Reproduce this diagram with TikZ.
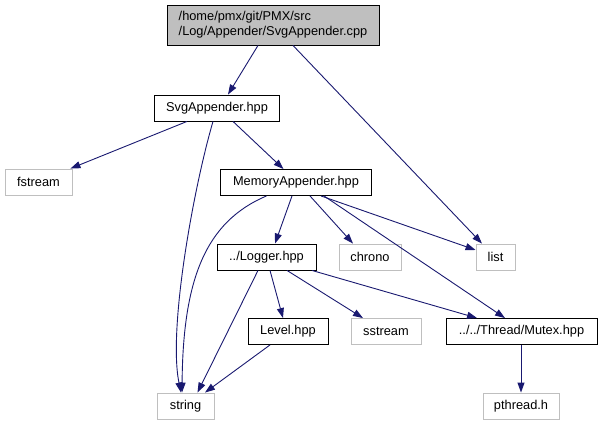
\documentclass[tikz,border=0pt]{standalone}
\usepackage{fontspec}
\setmainfont{Liberation Sans}
\usetikzlibrary{arrows.meta}
\definecolor{edgeblue}{HTML}{191970}
\definecolor{sysgray}{HTML}{BFBFBF}
\tikzset{
  filebox/.style={draw=black, fill=white, line width=0.9pt, inner sep=0pt, minimum height=26pt, font=\fontsize{12.8}{15}\selectfont},
  sysbox/.style={filebox, draw=sysgray},
  dep/.style={draw=edgeblue, line width=0.9pt, -{Triangle[length=10pt,width=7pt]}},
}
\begin{document}
\begin{tikzpicture}[x=1pt,y=-1pt]
\useasboundingbox (0,0) rectangle (602,425);
\node[filebox, fill=sysgray, minimum width=212pt, minimum height=40pt, align=left] (root) at (273,25) {/home/pmx/git/PMX/src\\/Log/Appender/SvgAppender.cpp};
\node[filebox, minimum width=125pt] (svg) at (217,108) {SvgAppender.hpp};
\node[sysbox, minimum width=67pt] (fstream) at (38.5,182) {fstream};
\node[filebox, minimum width=151pt] (mem) at (296,182.5) {MemoryAppender.hpp};
\node[filebox, minimum width=99pt] (logger) at (266.5,257) {../Logger.hpp};
\node[sysbox, minimum width=62pt] (chrono) at (370,257) {chrono};
\node[sysbox, minimum width=39pt] (list) at (495.5,257) {list};
\node[filebox, minimum width=80pt] (level) at (288,331.5) {Level.hpp};
\node[sysbox, minimum width=70pt] (sstream) at (386,331.5) {sstream};
\node[filebox, minimum width=151pt] (mutex) at (521.5,331.5) {../../Thread/Mutex.hpp};
\node[sysbox, minimum width=57pt] (string) at (185.5,406) {string};
\node[sysbox, minimum width=76pt] (pthread) at (521,406) {pthread.h};

\draw[dep] ([xshift=-15pt]root.south) -- ([xshift=11pt]svg.north);
\draw[dep] ([xshift=20pt]root.south) -- ([xshift=-13.5pt]list.north);
\draw[dep] ([xshift=-30pt]svg.south) -- ([xshift=-2pt]fstream.north east);
\draw[dep] ([xshift=-4pt]svg.south) .. controls (193,190) and (168,330) .. ([xshift=-4.5pt]string.north);
\draw[dep] ([xshift=16pt]svg.south) -- ([xshift=-12.5pt]mem.north);
\draw[dep] ([xshift=-29.5pt]mem.south) .. controls (205,222) and (183,280) .. ([xshift=-3.5pt]string.north);
\draw[dep] ([xshift=-4pt]mem.south) -- ([xshift=8.5pt]logger.north);
\draw[dep] ([xshift=14pt]mem.south) -- ([xshift=-17pt]chrono.north);
\draw[dep] ([xshift=25pt]mem.south) -- ([yshift=7pt]list.west);
\draw[dep] ([xshift=28pt]mem.south) -- ([xshift=-16.5pt]mutex.north);
\draw[dep] ([xshift=-8.5pt]logger.south) -- ([xshift=12pt]string.north);
\draw[dep] ([xshift=3.5pt]logger.south) -- ([xshift=-5pt]level.north);
\draw[dep] ([xshift=20.5pt]logger.south) -- ([xshift=-23pt]sstream.north);
\draw[dep] ([xshift=45.5pt]logger.south) -- ([xshift=-44.5pt]mutex.north);
\draw[dep] ([xshift=-18pt]level.south) -- ([xshift=19.5pt]string.north);
\draw[dep] ([xshift=-0.5pt]mutex.south) -- (pthread.north);
\end{tikzpicture}
\end{document}
